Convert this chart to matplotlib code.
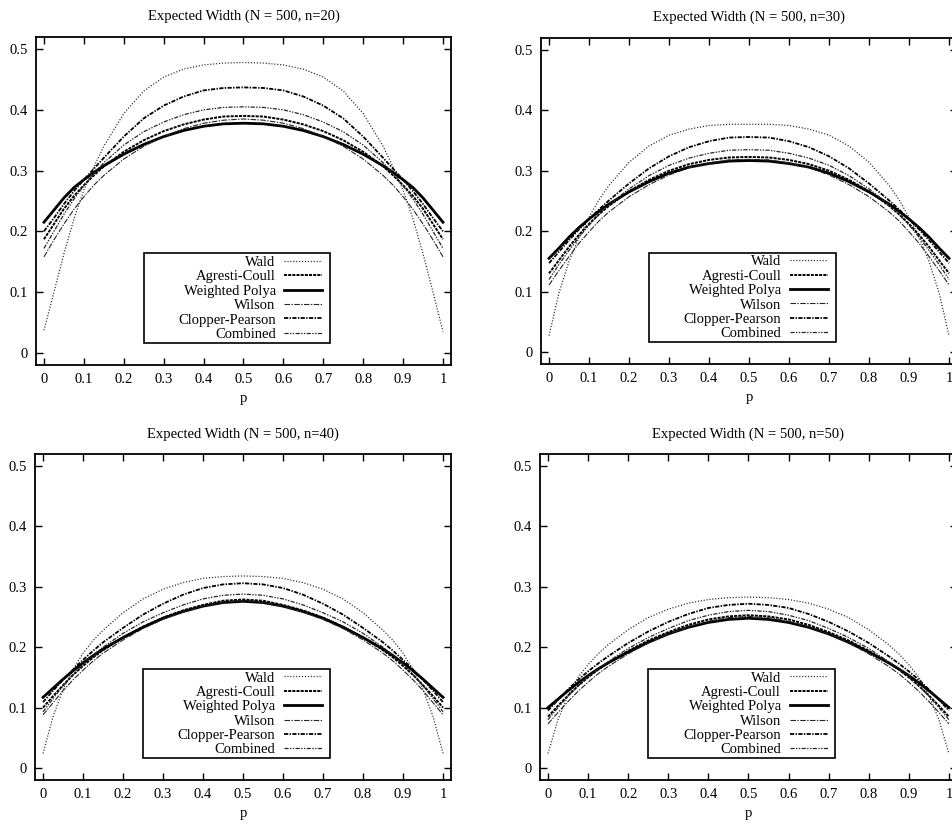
import numpy as np
import matplotlib
matplotlib.use("Agg")
import matplotlib.pyplot as plt
from matplotlib.patches import Rectangle

plt.rcParams["font.family"] = ["Liberation Serif", "DejaVu Serif"]
plt.rcParams["lines.scale_dashes"] = False

# proportion p (x axis)
p = [0, 0.025, 0.05, 0.075, 0.1, 0.125, 0.15, 0.2, 0.25, 0.3, 0.35, 0.4, 0.45, 0.5,
     0.55, 0.6, 0.65, 0.7, 0.75, 0.8, 0.85, 0.875, 0.9, 0.925, 0.95, 0.975, 1]

methods = ["Wald", "Agresti-Coull", "Weighted Polya", "Wilson", "Clopper-Pearson", "Combined"]
sample_sizes = [20, 30, 40, 50]

# n = 20
wald_20 = [0.037, 0.100, 0.163, 0.220, 0.268, 0.306, 0.340, 0.394, 0.431, 0.454, 0.467, 0.474, 0.477, 0.478,
           0.477, 0.474, 0.467, 0.454, 0.431, 0.394, 0.340, 0.306, 0.268, 0.220, 0.163, 0.100, 0.035]
ac_20 = [0.187, 0.212, 0.237, 0.258, 0.276, 0.292, 0.307, 0.331, 0.350, 0.365, 0.376, 0.384, 0.389, 0.390,
         0.389, 0.384, 0.376, 0.365, 0.350, 0.331, 0.307, 0.292, 0.276, 0.258, 0.237, 0.212, 0.187]
wp_20 = [0.215, 0.235, 0.255, 0.272, 0.285, 0.297, 0.308, 0.327, 0.343, 0.356, 0.366, 0.373, 0.377, 0.378,
         0.377, 0.373, 0.366, 0.356, 0.343, 0.327, 0.308, 0.297, 0.285, 0.272, 0.255, 0.235, 0.215]
wilson_20 = [0.158, 0.186, 0.212, 0.236, 0.257, 0.276, 0.292, 0.319, 0.340, 0.356, 0.369, 0.378, 0.383, 0.385,
             0.383, 0.378, 0.369, 0.356, 0.340, 0.319, 0.292, 0.276, 0.257, 0.236, 0.212, 0.186, 0.158]
cp_20 = [0.200, 0.222, 0.245, 0.266, 0.285, 0.303, 0.321, 0.356, 0.386, 0.407, 0.422, 0.432, 0.436, 0.437,
         0.436, 0.432, 0.422, 0.407, 0.386, 0.356, 0.321, 0.303, 0.285, 0.266, 0.245, 0.222, 0.200]
comb_20 = [0.172, 0.200, 0.228, 0.253, 0.275, 0.295, 0.313, 0.342, 0.364, 0.380, 0.392, 0.400, 0.404, 0.405,
           0.404, 0.400, 0.392, 0.380, 0.364, 0.342, 0.313, 0.295, 0.275, 0.253, 0.228, 0.200, 0.172]

# n = 30
wald_30 = [0.027, 0.098, 0.150, 0.190, 0.223, 0.252, 0.276, 0.314, 0.341, 0.359, 0.369, 0.375, 0.377, 0.377,
           0.377, 0.375, 0.369, 0.359, 0.341, 0.314, 0.276, 0.252, 0.223, 0.190, 0.150, 0.098, 0.027]
ac_30 = [0.130, 0.152, 0.174, 0.194, 0.212, 0.228, 0.242, 0.266, 0.285, 0.300, 0.311, 0.318, 0.322, 0.323,
         0.322, 0.318, 0.311, 0.300, 0.285, 0.266, 0.242, 0.228, 0.212, 0.194, 0.174, 0.152, 0.130]
wp_30 = [0.155, 0.172, 0.190, 0.206, 0.220, 0.233, 0.245, 0.265, 0.282, 0.296, 0.306, 0.312, 0.316, 0.317,
         0.316, 0.312, 0.306, 0.296, 0.282, 0.265, 0.245, 0.233, 0.220, 0.206, 0.190, 0.172, 0.155]
wilson_30 = [0.111, 0.135, 0.158, 0.180, 0.199, 0.217, 0.232, 0.257, 0.277, 0.293, 0.305, 0.313, 0.318, 0.319,
             0.318, 0.313, 0.305, 0.293, 0.277, 0.257, 0.232, 0.217, 0.199, 0.180, 0.158, 0.135, 0.111]
cp_30 = [0.147, 0.166, 0.185, 0.203, 0.220, 0.236, 0.251, 0.279, 0.304, 0.324, 0.339, 0.349, 0.355, 0.356,
         0.355, 0.349, 0.339, 0.324, 0.304, 0.279, 0.251, 0.236, 0.220, 0.203, 0.185, 0.166, 0.147]
comb_30 = [0.120, 0.145, 0.168, 0.190, 0.210, 0.228, 0.244, 0.270, 0.292, 0.309, 0.321, 0.329, 0.334, 0.335,
           0.334, 0.329, 0.321, 0.309, 0.292, 0.270, 0.244, 0.228, 0.210, 0.190, 0.168, 0.145, 0.120]

# n = 40
wald_40 = [0.024, 0.085, 0.130, 0.163, 0.190, 0.211, 0.228, 0.257, 0.280, 0.296, 0.307, 0.314, 0.317, 0.318,
           0.317, 0.314, 0.307, 0.296, 0.280, 0.257, 0.228, 0.211, 0.190, 0.163, 0.130, 0.085, 0.024]
ac_40 = [0.100, 0.119, 0.137, 0.154, 0.169, 0.183, 0.195, 0.216, 0.234, 0.249, 0.261, 0.270, 0.277, 0.279,
         0.277, 0.270, 0.261, 0.249, 0.234, 0.216, 0.195, 0.183, 0.169, 0.154, 0.137, 0.119, 0.100]
wp_40 = [0.117, 0.132, 0.147, 0.161, 0.174, 0.186, 0.197, 0.216, 0.233, 0.248, 0.259, 0.268, 0.274, 0.276,
         0.274, 0.268, 0.259, 0.248, 0.233, 0.216, 0.197, 0.186, 0.174, 0.161, 0.147, 0.132, 0.117]
wilson_40 = [0.088, 0.108, 0.128, 0.146, 0.162, 0.177, 0.190, 0.212, 0.231, 0.246, 0.258, 0.268, 0.275, 0.277,
             0.275, 0.268, 0.258, 0.246, 0.231, 0.212, 0.190, 0.177, 0.162, 0.146, 0.128, 0.108, 0.088]
cp_40 = [0.109, 0.128, 0.146, 0.163, 0.179, 0.194, 0.208, 0.232, 0.254, 0.272, 0.287, 0.298, 0.304, 0.306,
         0.304, 0.298, 0.287, 0.272, 0.254, 0.232, 0.208, 0.194, 0.179, 0.163, 0.146, 0.128, 0.109]
comb_40 = [0.093, 0.115, 0.136, 0.155, 0.172, 0.187, 0.200, 0.223, 0.242, 0.257, 0.270, 0.280, 0.286, 0.288,
           0.286, 0.280, 0.270, 0.257, 0.242, 0.223, 0.200, 0.187, 0.172, 0.155, 0.136, 0.115, 0.093]

# n = 50
wald_50 = [0.024, 0.080, 0.120, 0.150, 0.171, 0.189, 0.204, 0.229, 0.249, 0.263, 0.273, 0.279, 0.282, 0.283,
           0.282, 0.279, 0.273, 0.263, 0.249, 0.229, 0.204, 0.189, 0.171, 0.150, 0.120, 0.080, 0.024]
ac_50 = [0.085, 0.103, 0.120, 0.136, 0.150, 0.163, 0.174, 0.194, 0.211, 0.225, 0.237, 0.246, 0.251, 0.253,
         0.251, 0.246, 0.237, 0.225, 0.211, 0.194, 0.174, 0.163, 0.150, 0.136, 0.120, 0.103, 0.085]
wp_50 = [0.100, 0.114, 0.128, 0.141, 0.153, 0.164, 0.174, 0.192, 0.208, 0.222, 0.233, 0.241, 0.246, 0.248,
         0.246, 0.241, 0.233, 0.222, 0.208, 0.192, 0.174, 0.164, 0.153, 0.141, 0.128, 0.114, 0.100]
wilson_50 = [0.073, 0.092, 0.110, 0.127, 0.142, 0.156, 0.168, 0.189, 0.207, 0.222, 0.234, 0.243, 0.249, 0.251,
             0.249, 0.243, 0.234, 0.222, 0.207, 0.189, 0.168, 0.156, 0.142, 0.127, 0.110, 0.092, 0.073]
cp_50 = [0.095, 0.113, 0.130, 0.146, 0.160, 0.173, 0.185, 0.207, 0.226, 0.242, 0.255, 0.265, 0.270, 0.272,
         0.270, 0.265, 0.255, 0.242, 0.226, 0.207, 0.185, 0.173, 0.160, 0.146, 0.130, 0.113, 0.095]
comb_50 = [0.080, 0.100, 0.119, 0.136, 0.151, 0.164, 0.176, 0.198, 0.216, 0.231, 0.244, 0.253, 0.259, 0.261,
           0.259, 0.253, 0.244, 0.231, 0.216, 0.198, 0.176, 0.164, 0.151, 0.136, 0.119, 0.100, 0.080]

series = {
    20: [wald_20, ac_20, wp_20, wilson_20, cp_20, comb_20],
    30: [wald_30, ac_30, wp_30, wilson_30, cp_30, comb_30],
    40: [wald_40, ac_40, wp_40, wilson_40, cp_40, comb_40],
    50: [wald_50, ac_50, wp_50, wilson_50, cp_50, comb_50],
}

# line styles per method (gnuplot-like black lines)
styles = [
    dict(color="0.15", lw=0.9, ls=(0, (0.8, 1.3))),
    dict(color="black", lw=1.4, ls=(0, (2.2, 0.8))),
    dict(color="black", lw=2.0, ls="-"),
    dict(color="0.15", lw=0.8, ls=(0, (4, 1, 1, 1))),
    dict(color="black", lw=1.3, ls=(0, (3, 1, 1, 1))),
    dict(color="0.15", lw=0.9, ls=(0, (3, 1, 1, 1, 1, 1))),
]

# axes rectangles in figure fractions (right column is cut off by the page edge)
positions = [
    [0.0378, 0.5576, 0.4359, 0.3976],
    [0.5683, 0.5588, 0.4370, 0.3952],
    [0.0368, 0.0545, 0.4370, 0.3952],
    [0.5672, 0.0545, 0.4380, 0.3952],
]

fs = 10.5
fig = plt.figure(figsize=(9.52, 8.25), dpi=100)

for n, pos in zip(sample_sizes, positions):
    ax = fig.add_axes(pos)
    lines = []
    for vals, st in zip(series[n], styles):
        ln, = ax.plot(p, vals, color=st["color"], lw=st["lw"], linestyle=st["ls"])
        lines.append(ln)

    ax.set_xlim(-0.02, 1.02)
    ax.set_ylim(-0.02, 0.52)
    ax.set_xticks(np.arange(0, 1.01, 0.1))
    ax.set_xticklabels([f"{v:g}" for v in np.round(np.arange(0, 1.01, 0.1), 1)])
    ax.set_yticks(np.arange(0, 0.51, 0.1))
    ax.set_yticklabels([f"{v:g}" for v in np.round(np.arange(0, 0.51, 0.1), 1)])
    ax.tick_params(direction="in", top=True, right=True, length=5, width=1,
                   pad=6, labelsize=fs)
    for s in ax.spines.values():
        s.set_linewidth(1.3)

    ax.set_title(f"Expected Width (N = 500, n={n})", fontsize=fs, pad=12)
    ax.set_xlabel("p", fontsize=fs, labelpad=4)

    # legend box, gnuplot style: labels right aligned, sample to the right
    ax.add_patch(Rectangle((0.26, 0.068), 0.448, 0.273, transform=ax.transAxes,
                           facecolor="white", edgecolor="black", lw=1.2, zorder=4))
    leg = ax.legend(lines, methods, loc="center right", bbox_to_anchor=(0.69, 0.203),
                    frameon=False, markerfirst=False, fontsize=fs, handlelength=2.6,
                    handletextpad=0.6, labelspacing=0.08, borderpad=0, borderaxespad=0)
    leg.set_zorder(5)

fig.savefig("out.png", dpi=100)
